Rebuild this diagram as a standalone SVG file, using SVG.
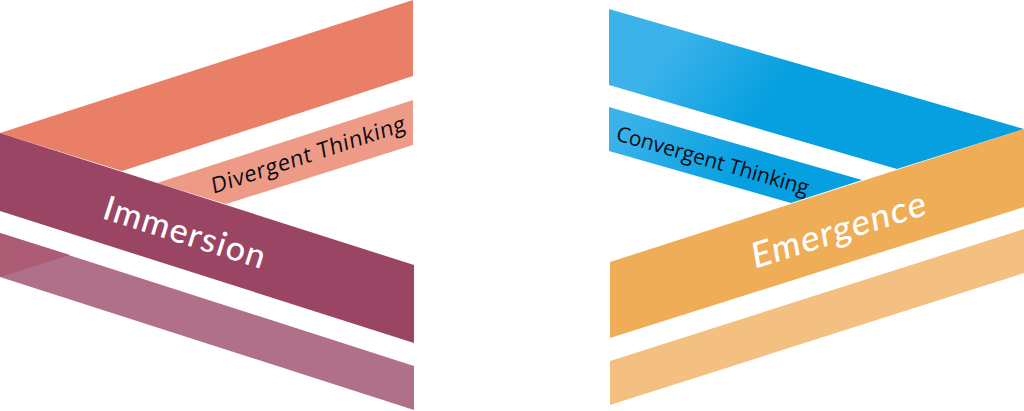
<svg xmlns="http://www.w3.org/2000/svg" width="1024" height="411" viewBox="0 0 1024 411">
<defs>
<linearGradient id="blue" gradientUnits="userSpaceOnUse" x1="680" y1="30" x2="770" y2="100"><stop offset="0" stop-color="#3bb3ea"/><stop offset="1" stop-color="#069fe0"/></linearGradient>
<linearGradient id="blue2" gradientUnits="userSpaceOnUse" x1="625" y1="110" x2="740" y2="180"><stop offset="0" stop-color="#3bb3ea"/><stop offset="1" stop-color="#069fe0"/></linearGradient>
</defs>
<style>
.big{font-family:Lato,"Open Sans",sans-serif;font-size:34px;fill:#fff;font-weight:500;letter-spacing:1.35px}
.small{font-family:"Open Sans","Noto Sans",sans-serif;font-size:22px;fill:#0b0b12;font-weight:500}
</style>
<rect width="1024" height="411" fill="#fff"/>
<g id="divergent-top"><polygon points="0,133 413,0 413,76 122,171" fill="#e97f66"/></g>
<g id="divergent-thinking"><polygon points="157,183 413,100 413,145 226,204" fill="#ed9a86"/>
<text class="small" style="letter-spacing:.65px" transform="translate(213,194) rotate(-18.2) skewX(-8)">Divergent Thinking</text></g>
<g id="immersion"><polygon points="0,133 414,265 414,343 0,211" fill="#9b4565"/>
<text class="big" transform="translate(101,218) rotate(17.7)">Immersion</text></g>
<g id="immersion-shadow"><polygon points="0,233 414,366 414,410 0,277" fill="#b1708a"/><polygon points="0,233 70,255 0,277" fill="#ac5c74"/></g>
<g id="convergent-top"><polygon points="609,9 1024,129 897,169 609,85" fill="url(#blue)"/></g>
<g id="convergent-thinking"><polygon points="609,107 862,180 791,203 609,151" fill="url(#blue2)"/>
<text class="small" style="font-size:21px;letter-spacing:-.15px" transform="translate(615,140) rotate(16.1)">Convergent Thinking</text></g>
<g id="emergence"><polygon points="1024,129 1024,207 610,338 610,262" fill="#f0ad58"/>
<text class="big" style="font-size:35px" transform="translate(754,269) rotate(-17.5) skewX(-8)">Emergence</text></g>
<g id="emergence-shadow"><polygon points="1024,229 1024,273 610,405 610,361" fill="#f4c081"/></g>
<g id="connectors"/>
</svg>
